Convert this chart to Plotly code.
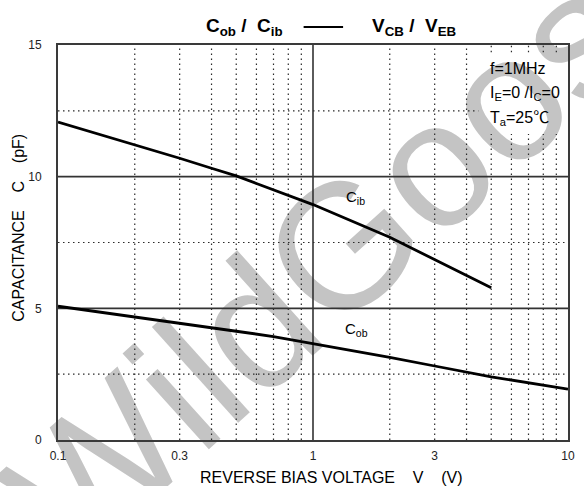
import numpy as np
import plotly.graph_objects as go

# Input capacitance C_ib versus V_EB
V_IB = [0.1, 0.2, 0.3, 0.4, 0.5, 0.6, 0.8, 1, 2, 3, 4, 5]
C_IB = [12.07, 11.22, 10.70, 10.32, 10.03, 9.74, 9.28, 8.94, 7.70, 6.86, 6.25, 5.78]

# Output capacitance C_ob versus V_CB
V_OB = [0.1, 0.2, 0.3, 0.5, 0.7, 1, 2, 3, 5, 10]
C_OB = [5.08, 4.68, 4.45, 4.13, 3.93, 3.67, 3.14, 2.81, 2.40, 1.93]

X_TICKS = [0.1, 0.3, 1, 3, 10]
X_TICKTEXT = ["0.1", "0.3", "1", "3", "10"]
Y_TICKS = [0, 5, 10, 15]

X_GRID_MAJOR = [1]
X_GRID_MINOR = [0.2, 0.3, 0.4, 0.5, 0.6, 0.7, 0.8, 0.9, 2, 3, 4, 5, 6, 7, 8, 9]
Y_GRID_MAJOR = [5, 10]
Y_GRID_MINOR = [2.5, 7.5, 12.5]

FONT = "Liberation Sans, Arial, Helvetica, sans-serif"
FONT_SYM = "Liberation Sans, Arial, Noto Sans CJK SC, sans-serif"
GRID_COL = "#2a2a2a"
DOT = "1.5px,3.5px"

# region kept clear of grid for the condition notes (top-right corner)
NOTE_X = 4.45
NOTE_Y0, NOTE_Y1 = 11.62, 14.72

fig = go.Figure()

shapes = []
# watermark, under everything
WM_X, WM_Y = 0.5648, 0.557
shapes.append(dict(
    type="line", xref="paper", yref="paper",
    x0=WM_X - 0.01, y0=WM_Y, x1=WM_X + 0.01, y1=WM_Y,
    line=dict(width=0, color="rgba(0,0,0,0)"), layer="below",
    label=dict(text="WildGoose", textposition="middle", textangle=-42,
               xanchor="center", yanchor="middle",
               font=dict(family=FONT, size=178, color="#c4c4c4")),
))

# grid
for v in X_GRID_MINOR:
    if v > NOTE_X:
        segs = [(0, NOTE_Y0), (NOTE_Y1, 15)]
    else:
        segs = [(0, 15)]
    for a, b in segs:
        shapes.append(dict(type="line", xref="x", yref="y", x0=v, x1=v, y0=a, y1=b,
                           line=dict(color=GRID_COL, width=1.2, dash=DOT), layer="below"))
for v in Y_GRID_MINOR:
    x_end = NOTE_X if v > NOTE_Y0 else 10
    shapes.append(dict(type="line", xref="x", yref="y", x0=0.1, x1=x_end, y0=v, y1=v,
                       line=dict(color=GRID_COL, width=1.2, dash=DOT), layer="below"))
for v in X_GRID_MAJOR:
    shapes.append(dict(type="line", xref="x", yref="y", x0=v, x1=v, y0=0, y1=15,
                       line=dict(color="#333", width=1.6), layer="below"))
for v in Y_GRID_MAJOR:
    shapes.append(dict(type="line", xref="x", yref="y", x0=0.1, x1=10, y0=v, y1=v,
                       line=dict(color="#333", width=1.6), layer="below"))

# dash between the two title halves
shapes.append(dict(type="line", xref="paper", yref="paper", x0=0.4816, x1=0.559,
                   y0=1.0456, y1=1.0456, line=dict(color="black", width=2)))

fig.add_trace(go.Scatter(x=V_IB, y=C_IB, mode="lines",
                         line=dict(color="black", width=2.8), hoverinfo="skip"))
fig.add_trace(go.Scatter(x=V_OB, y=C_OB, mode="lines",
                         line=dict(color="black", width=2.8), hoverinfo="skip"))

ann = []
ann.append(dict(text="<b>C<sub>ob</sub> /  C<sub>ib</sub></b>", xref="paper", yref="paper",
                x=0.3656, y=1.045, xanchor="center", yanchor="middle", showarrow=False,
                font=dict(family=FONT, size=19, color="black")))
ann.append(dict(text="<b>V<sub>CB</sub> /  V<sub>EB</sub></b>", xref="paper", yref="paper",
                x=0.6974, y=1.045, xanchor="center", yanchor="middle", showarrow=False,
                font=dict(family=FONT, size=19, color="black")))

for txt, yy in [("f=1MHz", 0.9395), ("I<sub>E</sub>=0 /I<sub>C</sub>=0", 0.878),
                ("T<sub>a</sub>=25℃", 0.815)]:
    ann.append(dict(text=txt, xref="paper", yref="paper", x=0.8433, y=yy,
                    xanchor="left", yanchor="middle", showarrow=False,
                    font=dict(family=FONT_SYM, size=16, color="black")))

ann.append(dict(text="C<sub>ib</sub>", xref="x", yref="y", x=np.log10(1.468), y=9.2,
                xanchor="center", yanchor="middle", showarrow=False,
                font=dict(family=FONT, size=15, color="black")))
ann.append(dict(text="C<sub>ob</sub>", xref="x", yref="y", x=np.log10(1.48), y=4.2,
                xanchor="center", yanchor="middle", showarrow=False,
                font=dict(family=FONT, size=15, color="black")))

SP = "\u00a0" * 4
ann.append(dict(text=f"REVERSE BIAS VOLTAGE{SP}V{SP}(V)", xref="paper", yref="paper",
                x=0.536, y=-0.094, xanchor="center", yanchor="middle", showarrow=False,
                font=dict(family=FONT, size=16, color="black")))
ann.append(dict(text=f"CAPACITANCE{SP}C{SP}(pF)", xref="paper", yref="paper",
                x=-0.0768, y=0.537, xanchor="center", yanchor="middle", showarrow=False,
                textangle=-90, font=dict(family=FONT, size=16, color="black")))

fig.update_layout(
    width=584, height=486,
    margin=dict(l=58, r=9, t=45, b=46),
    paper_bgcolor="white", plot_bgcolor="white",
    showlegend=False,
    shapes=shapes, annotations=ann,
    xaxis=dict(type="log", range=[-1, 1], tickvals=X_TICKS, ticktext=X_TICKTEXT,
               showgrid=False, zeroline=False, showline=True, mirror=True,
               linecolor="#3a3a3a", linewidth=2, ticks="",
               tickfont=dict(family=FONT, size=12, color="#222"), ticklabelstandoff=4),
    yaxis=dict(range=[0, 15], tickvals=Y_TICKS, showgrid=False, zeroline=False,
               showline=True, mirror=True, linecolor="#3a3a3a", linewidth=2, ticks="",
               tickfont=dict(family=FONT, size=12, color="#222"), ticklabelstandoff=12),
)

fig.write_html("out.html")
